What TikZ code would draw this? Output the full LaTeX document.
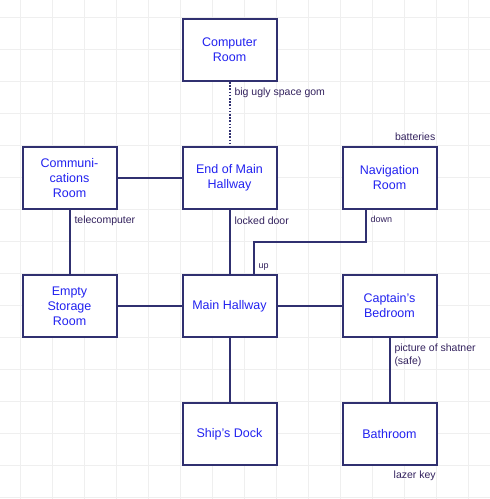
\documentclass[tikz,border=0pt]{standalone}
\usepackage{fontspec}
\setmainfont{Liberation Sans}
\usepackage{tikz}
\usetikzlibrary{positioning}
\definecolor{wall}{HTML}{303070}
\definecolor{roomblue}{HTML}{2222F0}
\definecolor{notetext}{HTML}{33225E}
\definecolor{gridgray}{HTML}{EFEFEF}
\tikzset{
  room/.style={rectangle, draw=wall, line width=2pt, fill=white, text=roomblue, align=center,
               font=\fontsize{12.5}{15}\selectfont, minimum width=94pt, minimum height=62pt},
  door/.style={draw=wall, line width=2pt},
  gom/.style={door, dash pattern=on 1.6pt off 1.6pt},
  note/.style={anchor=base west, inner sep=0pt, text=notetext, font=\fontsize{10.5}{13}\selectfont},
  smallnote/.style={note, font=\fontsize{9}{11}\selectfont},
  gridline/.style={draw=gridgray, line width=1pt},
}

\begin{document}
\begin{tikzpicture}[x=1pt, y=-1pt, node distance=64pt]
  \useasboundingbox (0,0) rectangle (490,499);
  \fill[white] (0,0) rectangle (490,499);
  \foreach \gx in {20,52,...,468} \draw[gridline] (\gx,0) -- (\gx,499);
  \foreach \gy in {17,49,...,497} \draw[gridline] (0,\gy) -- (490,\gy);

  \node[room] (computer) at (229.5,50) {Computer\\Room};
  \node[room, below=of computer] (endhall) {End of Main\\Hallway};
  \node[room, left=of endhall] (comms) {Communi-\\cations\\Room};
  \node[room, right=of endhall] (nav) {Navigation\\Room};
  \node[room, below=of endhall] (mainhall) {Main Hallway};
  \node[room, left=of mainhall] (storage) {Empty\\Storage\\Room};
  \node[room, right=of mainhall] (captain) {Captain's\\Bedroom};
  \node[room, below=of mainhall] (dock) {Ship's Dock};
  \node[room, below=of captain] (bath) {Bathroom};
  \coordinate[above right=32pt and 24pt of mainhall.north] (turn);

  \draw[gom] (computer) -- node[note, pos=0, xshift=4pt, yshift=-13pt] {big ugly space gom} (endhall);
  \draw[door] (comms) -- (endhall);
  \draw[door] (comms) -- node[note, pos=0, xshift=4pt, yshift=-13pt] {telecomputer} (storage);
  \draw[door] (endhall) -- node[note, pos=0, xshift=4pt, yshift=-14pt] {locked door} (mainhall);
  \draw[door] ([xshift=-24pt]nav.south) |- node[smallnote, pos=0, xshift=4pt, yshift=-12pt] {down} (turn)
    -- node[smallnote, pos=1, xshift=4pt, yshift=6pt] {up} (turn |- mainhall.north);
  \draw[door] (storage) -- (mainhall); \draw[door] (mainhall) -- (captain); \draw[door] (mainhall) -- (dock);
  \draw[door] (captain) -- node[note, anchor=north west, align=left, pos=0, xshift=4pt, yshift=-5pt] {picture of shatner\\(safe)} (bath);

  \node[note, anchor=base east] (batteries) at ([xshift=-2pt, yshift=6pt]nav.north east) {batteries};
  \node[note] (lazerkey) at ([xshift=4pt, yshift=-12.5pt]bath.south) {lazer key};
\end{tikzpicture}
\end{document}
